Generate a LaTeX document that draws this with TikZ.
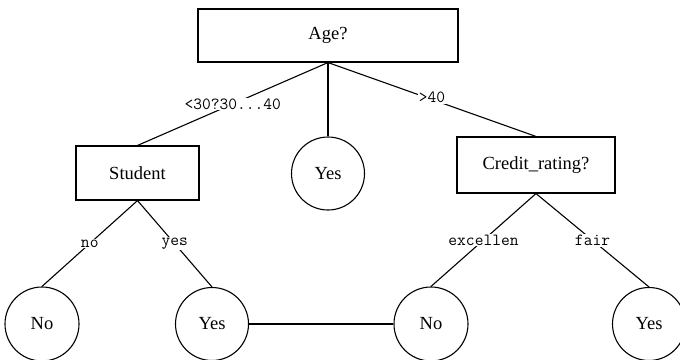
\documentclass[tikz,border=0pt]{standalone}
\usepackage{fontspec}
\setmainfont{Liberation Serif}
\begin{document}
\begin{tikzpicture}[x=1pt,y=-1pt,
  line width=1.1pt,
  box/.style={draw,rectangle,inner sep=0pt,font=\fontsize{18.5}{20}\selectfont},
  leaf/.style={draw,circle,inner sep=0pt,font=\fontsize{18.5}{20}\selectfont},
  elabel/.style={fill=white,inner sep=1pt,font=\ttfamily\fontsize{17}{18}\selectfont}]
\useasboundingbox (0,0) rectangle (680,359);
\clip (0,0) rectangle (680,359);
% decision nodes
\node[box,minimum width=260pt,minimum height=53pt] (age) at (328,35.5) {Age?};
\node[box,minimum width=123pt,minimum height=54pt] (student) at (137.5,173) {Student};
\node[box,minimum width=158pt,minimum height=56pt] (credit) at (536,165) {Credit\_rating?};
% leaves
\node[leaf,minimum size=73pt] (yesmid) at (328,173.5) {Yes};
\node[leaf,minimum size=74pt] (no1) at (42,324) {No};
\node[leaf,minimum size=73pt] (yes1) at (212,324) {Yes};
\node[leaf,minimum size=74pt] (no2) at (431,324) {No};
\node[leaf,minimum size=73pt] (yes2) at (649,324) {Yes};
% branches
\draw (age.south) -- (student.north) node[elabel,midway] {<30?30...40};
\draw (age.south) -- (yesmid.north);
\draw (age.south) -- (credit.north) node[elabel,midway,yshift=2pt] {>40};
\draw (student.south) -- (no1.north) node[elabel,midway] {no};
\draw (student.south) -- (yes1.north) node[elabel,midway] {yes};
\draw (credit.south) -- (no2.north) node[elabel,midway] {excellen};
\draw (credit.south) -- (yes2.north) node[elabel,midway] {fair};
\draw (yes1.east) -- (no2.west);
\end{tikzpicture}
\end{document}
